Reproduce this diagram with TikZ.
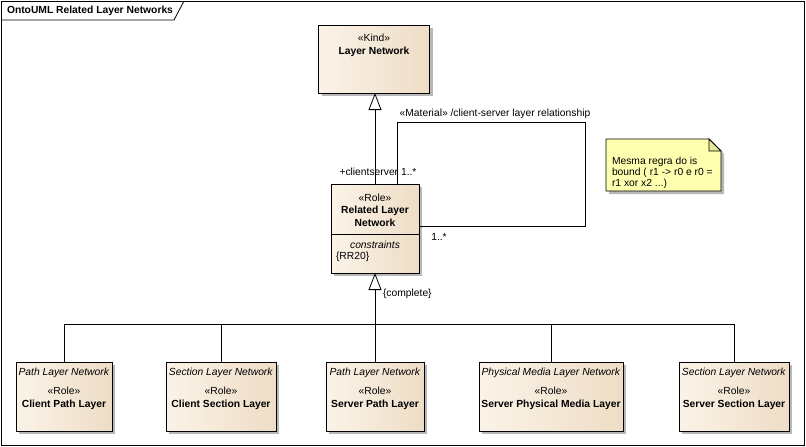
\documentclass[tikz,border=0pt]{standalone}
\usepackage{fontspec}
\setmainfont{Liberation Sans}
\usetikzlibrary{arrows.meta,%
                shapes,positioning,shadows}
\definecolor{clslight}{RGB}{251,243,232}
\definecolor{clsdark}{RGB}{238,221,198}
\definecolor{noteyellow}{RGB}{255,255,176}
\definecolor{notefold}{RGB}{232,232,150}

\begin{document}
\begin{tikzpicture}[x=1pt,y=-1pt,
  font=\fontsize{10.3}{12.5}\selectfont,
  every node/.style={inner sep=0pt,outer sep=0pt},
  line/.style={line width=0.8pt},
  shade/.style={drop shadow={shadow xshift=3pt,shadow yshift=-3pt,fill=black!35,opacity=0.8}},
  cls/.style={line,draw,left color=clslight,right color=clsdark,shade},
  txt/.style={align=center},
  gen/.style={line,-{Triangle[open,length=17pt,width=13pt]}}]
\useasboundingbox (0,0) rectangle (806,447);
\draw[line] (1,1) rectangle (804,445);
\draw[line] (1,20) -- (174,20) -- (184,1);
\node[anchor=west,font=\fontsize{10.3}{12.5}\selectfont\bfseries] (title) at (7,11) {OntoUML Related Layer Networks};

\node[cls,minimum width=111pt,minimum height=68pt] (lnet) at (374,59) {};
\node[txt,below=9pt of lnet.north] (lnettxt) {«Kind»\\[0.5pt]\textbf{Layer Network}};

\node[cls,minimum width=88pt,minimum height=89pt] (rln) at (375,228.5) {};
\node[txt,below=10pt of rln.north] (rlntxt) {«Role»\\\textbf{Related Layer}\\\textbf{Network}};
\draw[line] (rln.west |- 0,234) -- (rln.east |- 0,234);
\node (cons) at (375,245) {\textit{constraints}};
\node[anchor=west] (rr20) at (336,257) {\{RR20\}};

\node[cls,minimum width=96pt,minimum height=69pt] (cpl) at (64,396.5) {};
\node[cls,minimum width=110pt,minimum height=69pt] (csl) at (221,396.5) {};
\node[cls,minimum width=98pt,minimum height=69pt] (spl) at (375,396.5) {};
\node[cls,minimum width=144pt,minimum height=69pt] (spml) at (551,396.5) {};
\node[cls,minimum width=110pt,minimum height=69pt] (ssl) at (734,396.5) {};
\node[txt,below=6.5pt of cpl.north] (cpltxt) {\textit{Path Layer Network}\\[6.5pt]«Role»\\\textbf{Client Path Layer}};
\node[txt,below=6.5pt of csl.north] (csltxt) {\textit{Section Layer Network}\\[6.5pt]«Role»\\\textbf{Client Section Layer}};
\node[txt,below=6.5pt of spl.north] (spltxt) {\textit{Path Layer Network}\\[6.5pt]«Role»\\\textbf{Server Path Layer}};
\node[txt,below=6.5pt of spml.north] (spmltxt) {\textit{Physical Media Layer Network}\\[6.5pt]«Role»\\\textbf{Server Physical Media Layer}};
\node[txt,below=6.5pt of ssl.north] (ssltxt) {\textit{Section Layer Network}\\[6.5pt]«Role»\\\textbf{Server Section Layer}};

\coordinate (bus) at (375,324);
\draw[line] (cpl.north) |- (bus);
\draw[line] (csl.north) |- (bus);
\draw[line] (spl.north) |- (bus);
\draw[line] (spml.north) |- (bus);
\draw[line] (ssl.north) |- (bus);
\draw[gen] (bus) -- (rln.south);
\node[anchor=west] (cmpl) at (383,294) {\{complete\}};
\draw[gen] (rln.north) -- (rln.north |- lnet.south);

\coordinate (loopne) at (585,122);
\coordinate (loopse) at (585,226);
\draw[line] ([xshift=22pt]rln.north) |- (loopne) -- (loopse) -- (rln.east |- loopse);
\node (assoc) at (495,114) {«Material» /client-server layer relationship};
\node (csrole) at (378,172) {+clientserver 1..*};
\node (mult) at (439,237) {1..*};

\draw[line,fill=noteyellow,shade] (606,139) -- (709,139) -- (721,151) -- (721,191) -- (606,191) -- cycle;
\draw[line,fill=notefold] (709,139) -- (709,151) -- (721,151) -- cycle;
\node[anchor=north west,align=left,font=\fontsize{10.3}{11}\selectfont] (note) at (612,157) {Mesma regra do is\\bound ( r1 -> r0 e r0 =\\r1 xor x2 ...)};
\end{tikzpicture}
\end{document}
